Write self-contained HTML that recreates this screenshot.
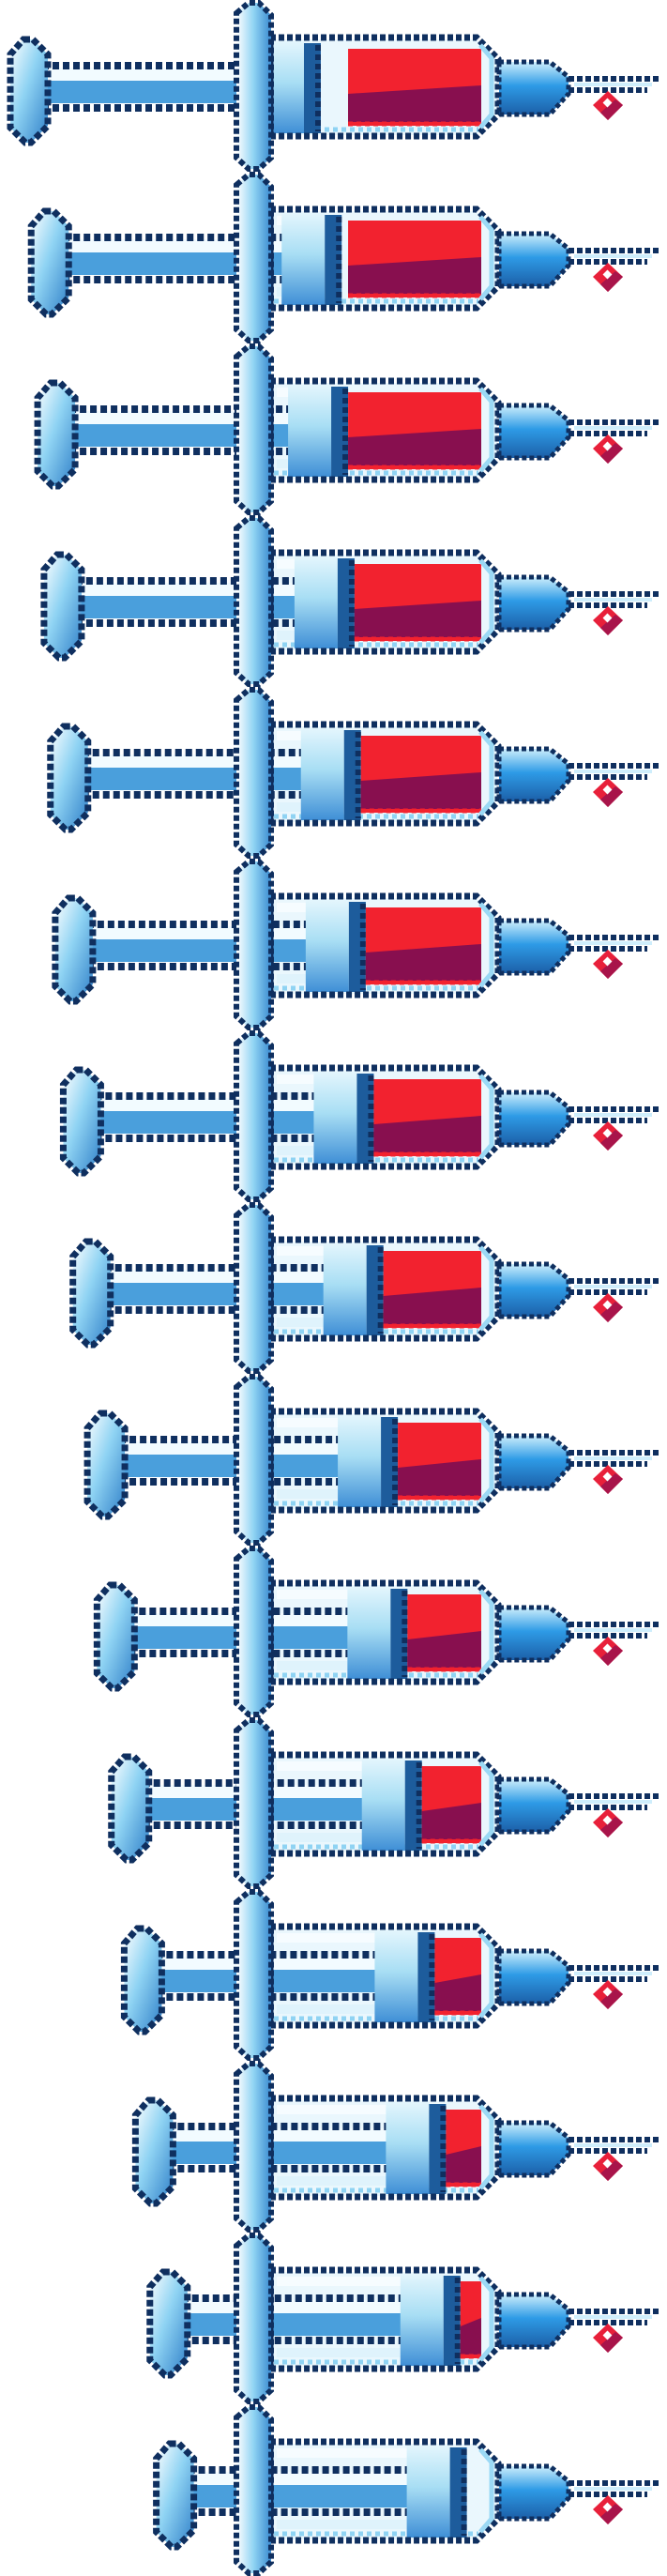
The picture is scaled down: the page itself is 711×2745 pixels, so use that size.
<!DOCTYPE html>
<html><head><meta charset="utf-8"><title>Syringes</title>
<style>
html,body{margin:0;padding:0;background:#fff;}
svg{display:block;}
</style></head>
<body>
<svg id="chart" width="711" height="2745" viewBox="0 0 711 2745" xmlns="http://www.w3.org/2000/svg">
<defs>
<linearGradient id="gHead" x1="0" y1="0" x2="0" y2="1">
<stop offset="0" stop-color="#e4f6fd"/><stop offset="0.45" stop-color="#a8def4"/><stop offset="1" stop-color="#3f8fd6"/></linearGradient>
<linearGradient id="gFlange" x1="0" y1="0" x2="1" y2="0">
<stop offset="0" stop-color="#ffffff"/><stop offset="0.5" stop-color="#8fd3f3"/><stop offset="1" stop-color="#3a8ad0"/></linearGradient>
<linearGradient id="gHandle" x1="0" y1="0" x2="1" y2="1">
<stop offset="0" stop-color="#ffffff"/><stop offset="0.45" stop-color="#8fd3f3"/><stop offset="1" stop-color="#2f7fc8"/></linearGradient>
<linearGradient id="gNozzle" x1="0" y1="0" x2="0" y2="1">
<stop offset="0" stop-color="#cdeefc"/><stop offset="0.45" stop-color="#2e9be6"/><stop offset="1" stop-color="#1c5fa8"/></linearGradient>
</defs>
</svg>
<script>
// Data: volume remaining in each syringe (mL) and plunger tip position (mL mark)
const syringeLabels = ["s1","s2","s3","s4","s5","s6","s7","s8","s9","s10","s11","s12","s13","s14","s15"];
const fillVolumes = [8.3, 8.3, 8.3, 7.9, 7.5, 7.2, 6.7, 6.1, 5.2, 4.6, 3.7, 2.9, 2.2, 1.3, 0];
const plungerVolumes = [10, 8.7, 8.3, 7.9, 7.5, 7.2, 6.7, 6.1, 5.2, 4.6, 3.7, 2.9, 2.2, 1.3, 0.9];

const NS = "http://www.w3.org/2000/svg";
const svg = document.getElementById("chart");
const ROW = 183;
const BARREL_END = 513;
const PX_PER_ML = 17.1;
function xVol(v){ return BARREL_END - v * PX_PER_ML; }
function yRow(i){ return i * ROW; }

const DARK = "#0f2f5f";
function mk(tag, attrs, parent){
  const e = document.createElementNS(NS, tag);
  for (const k in attrs) e.setAttribute(k, attrs[k]);
  parent.appendChild(e);
  return e;
}

syringeLabels.forEach((lab, i) => {
  const g = mk("g", {transform: "translate(0," + yRow(i) + ")"}, svg);
  
  
  const P = xVol(plungerVolumes[i]);
  const R = xVol(fillVolumes[i]);
  const hl = P - 337;

  // barrel interior
  const bi = mk("polygon", {points:"290,42 508,42 530,64 530,120 508,144 290,144", fill:"#eaf7fd"}, g);
  
  
  mk("line", {x1:292, y1:138, x2:510, y2:138, stroke:"#8fd3f3", "stroke-width":5, "stroke-dasharray":"5 4"}, g);

  // rod
  const rod = mk("g", {}, g);
  
  
  const rx1 = hl + 40, rx2 = P - 62;
  mk("rect", {x:rx1, y:72, width:rx2-rx1, height:16, fill:"#f2fbff"}, rod);
  mk("rect", {x:rx1, y:86, width:rx2-rx1, height:24, fill:"#4a9fdc"}, rod);
  mk("line", {x1:rx1, y1:70, x2:rx2, y2:70, stroke:DARK, "stroke-width":8, "stroke-dasharray":"7 4"}, rod);
  mk("line", {x1:rx1, y1:115, x2:rx2, y2:115, stroke:DARK, "stroke-width":8, "stroke-dasharray":"7 4"}, rod);
  if (rx2 > 300) {
    mk("line", {x1:295, y1:52, x2:rx2, y2:52, stroke:"#f6fcff", "stroke-width":10}, rod);
    mk("line", {x1:295, y1:128, x2:rx2, y2:128, stroke:"#dff3fc", "stroke-width":10}, rod);
  }

  // plunger head
  const head = mk("g", {}, g);
  
  
  mk("rect", {x:P-64, y:44, width:46, height:98, fill:"url(#gHead)"}, head);
  mk("rect", {x:P-18, y:46, width:18, height:96, fill:"#1d5c9c"}, head);
  mk("line", {x1:P-3, y1:48, x2:P-3, y2:140, stroke:DARK, "stroke-width":6, "stroke-dasharray":"6 4"}, head);

  // blood
  if (fillVolumes[i] > 0) {
    const blood = mk("g", {}, g);
    
    
    const w = BARREL_END - R;
    mk("rect", {x:R, y:52, width:w, height:82, fill:"#f2222f"}, blood);
    mk("polygon", {points: R+","+100+" "+BARREL_END+","+91+" "+BARREL_END+",130 "+R+",130", fill:"#880f4f"}, blood);
    mk("line", {x1:R, y1:132, x2:BARREL_END, y2:132, stroke:"#f2222f", "stroke-width":5, "stroke-dasharray":"5 4"}, blood);
  }

  // barrel outline
  const bo = mk("polygon", {points:"288,40 508,40 531,63 531,122 508,145 288,145", fill:"none", stroke:DARK, "stroke-width":7, "stroke-dasharray":"6 3"}, g);
  
  
  mk("polyline", {points:"512,48 524,62 524,122 512,136", fill:"none", stroke:"#9bd9f5", "stroke-width":5}, g);

  // flange
  const fl = mk("polygon", {points:"252,14 265,3 276,3 289,16 289,168 276,180 265,180 252,168", fill:"url(#gFlange)", stroke:DARK, "stroke-width":6, "stroke-dasharray":"6 3"}, g);
  
  

  // handle
  const hd = mk("polygon", {points:(hl+20)+",42 "+(hl+30)+",42 "+(hl+46)+",58 "+(hl+46)+",134 "+(hl+28)+",152 "+(hl+22)+",152 "+(hl+6)+",136 "+(hl+6)+",58", fill:"url(#gHandle)", stroke:DARK, "stroke-width":7, "stroke-dasharray":"7 3"}, g);
  
  

  // nozzle
  const nz = mk("polygon", {points:"532,66 586,66 606,82 606,100 586,122 532,122", fill:"url(#gNozzle)", stroke:DARK, "stroke-width":5, "stroke-dasharray":"5 3"}, g);
  
  

  // needle
  const nd = mk("g", {}, g);
  
  
  mk("line", {x1:606, y1:84, x2:704, y2:84, stroke:DARK, "stroke-width":6, "stroke-dasharray":"6 3"}, nd);
  mk("line", {x1:606, y1:96, x2:690, y2:96, stroke:DARK, "stroke-width":6, "stroke-dasharray":"6 3"}, nd);
  mk("line", {x1:612, y1:90, x2:695, y2:90, stroke:"#cfeefc", "stroke-width":4}, nd);

  // drop
  const dr = mk("g", {}, g);
  
  
  mk("polygon", {points:"648,97 664,112 648,128 632,112", fill:"#e8203a"}, dr);
  mk("polygon", {points:"664,112 648,128 640,120 656,106", fill:"#a8144a"}, dr);
  mk("rect", {x:644, y:106, width:7, height:7, fill:"#fff", transform:"rotate(45 647.5 109.5)"}, dr);
});
</script>
</body></html>
